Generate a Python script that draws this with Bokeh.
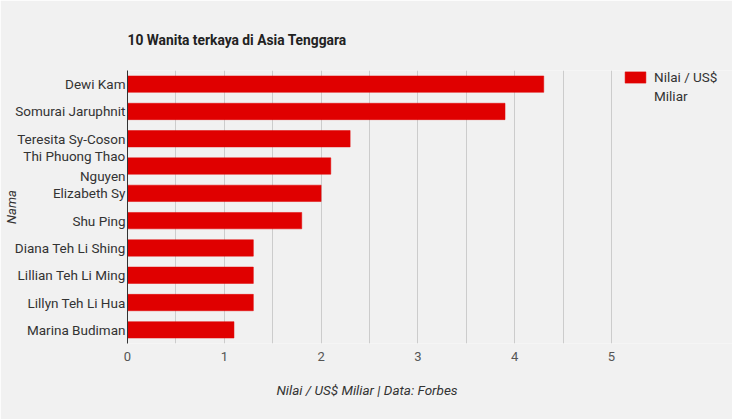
from bokeh.plotting import figure
from bokeh.models import FixedTicker, Legend, LegendItem, Title
from bokeh.embed import file_html
from bokeh.resources import INLINE

names = ["Dewi Kam", "Somurai Jaruphnit", "Teresita Sy-Coson", "Thi Phuong Thao\nNguyen",
         "Elizabeth Sy", "Shu Ping", "Diana Teh Li Shing", "Lillian Teh Li Ming",
         "Lillyn Teh Li Hua", "Marina Budiman"]
values = [4.3, 3.9, 2.3, 2.1, 2.0, 1.8, 1.3, 1.3, 1.3, 1.1]
x_ticks = [0, 1, 2, 3, 4, 5]
grid_ticks = [0, 0.5, 1, 1.5, 2, 2.5, 3, 3.5, 4, 4.5, 5]
legend_lines = ["Nilai / US$", "Miliar"]
x_label = "Nilai / US$ Miliar | Data: Forbes"

FONT = "Roboto"
BG = "#f1f1f1"
RED = "#e00000"

p = figure(width=732, height=419, y_range=list(reversed(names)), x_range=(0, 6.25),
           output_backend="svg", toolbar_location=None,
           min_border_left=127, min_border_right=0, min_border_top=70, min_border_bottom=76)
p.background_fill_color = BG
p.border_fill_color = BG
p.outline_line_color = None

r = p.hbar(y=names, right=values, height=0.6, left=0, fill_color=RED, line_color=RED, line_width=0.5)
blank = p.hbar(y=[], right=[], height=0.6, left=0, fill_alpha=0, line_alpha=0)

p.title.text = "10 Wanita terkaya di Asia Tenggara"
p.title.text_font = FONT
p.title.text_font_size = "13.8px"
p.title.text_font_style = "bold"
p.title.text_color = "#222222"
p.title.align = "left"
p.title.standoff = 45

for ax in (p.xaxis, p.yaxis):
    ax.major_tick_out = 0
    ax.major_tick_in = 0
    ax.minor_tick_out = 0
    ax.minor_tick_in = 0
    ax.major_tick_line_color = None
    ax.minor_tick_line_color = None

p.xaxis.ticker = FixedTicker(ticks=x_ticks)
p.xgrid.ticker = FixedTicker(ticks=grid_ticks)
p.xgrid.grid_line_color = "#cccccc"
p.ygrid.grid_line_color = None
p.xaxis.axis_line_color = None
p.xaxis.major_label_text_font = FONT
p.xaxis.major_label_text_font_size = "13px"
p.xaxis.major_label_text_color = "#555555"
p.xaxis.major_label_standoff = 8

xt = Title(text=x_label, align="left", offset=149, standoff=32,
           text_font=FONT, text_font_size="13.5px", text_font_style="italic",
           text_color="#333333")
p.add_layout(xt, "below")

p.yaxis.axis_line_color = "#333333"
p.yaxis.axis_line_width = 1
p.yaxis.major_label_text_font = FONT
p.yaxis.major_label_text_font_size = "13.5px"
p.yaxis.major_label_text_color = "#333333"
p.yaxis.major_label_standoff = 2
p.yaxis.axis_label = "Nama"
p.yaxis.axis_label_text_font = FONT
p.yaxis.axis_label_text_font_size = "13px"
p.yaxis.axis_label_text_font_style = "italic"
p.yaxis.axis_label_text_color = "#333333"
p.yaxis.axis_label_standoff = -7

legend = Legend(items=[LegendItem(label=legend_lines[0], renderers=[r]),
                       LegendItem(label=legend_lines[1], renderers=[blank])],
                location=(495, 239), orientation="vertical")
legend.background_fill_alpha = 0
legend.border_line_color = None
legend.label_text_font = FONT
legend.label_text_font_size = "13.5px"
legend.label_text_color = "#333333"
legend.glyph_width = 26
legend.glyph_height = 14
legend.padding = 0
legend.margin = 0
legend.spacing = 3
legend.label_standoff = 6
p.add_layout(legend)

open("out.html", "w").write(file_html(p, INLINE))
